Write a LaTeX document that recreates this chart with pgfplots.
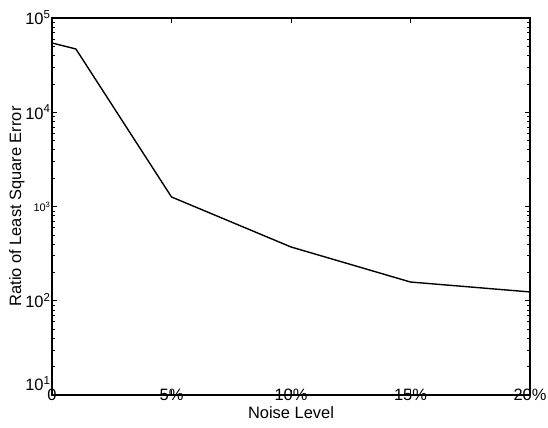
\documentclass[border=0pt]{standalone}
\usepackage{fontspec}
\setmainfont{Liberation Sans}
\usepackage{pgfplots}
\pgfplotsset{compat=1.18}
\begin{document}
\begin{tikzpicture}
\begin{axis}[
  scale only axis,
  width=478bp, height=377bp,
  ymode=log,
  xmin=0, xmax=20,
  ymin=10, ymax=100000,
  xtick={0,5,10,15,20},
  xticklabels={0,5\%,10\%,15\%,20\%},
  ytick={10,100,1000,10000,100000},
  yticklabels={\raisebox{4bp}[0pt][0pt]{10\textsuperscript{1}},10\textsuperscript{2},{\fontsize{11}{12}\selectfont 10\textsuperscript{3}},10\textsuperscript{4},10\textsuperscript{5}},
  tick align=inside,
  tick style={black, line width=0.6pt},
  major tick length=5bp,
  minor tick length=3bp,
  axis line style={line width=1.1pt},
  tick label style={font=\fontsize{16.5}{18}\selectfont},
  /pgf/number format/assume math mode=true,
  xticklabel style={yshift=9bp},
  yticklabel style={xshift=2bp},
  xlabel={Noise Level},
  ylabel={Ratio of Least Square Error},
  label style={font=\fontsize{16.5}{18}\selectfont},
  xlabel style={yshift=1bp},
  ylabel style={yshift=-6bp},
]
\addplot[black, line width=1.4pt] coordinates {
  (0,54300) (1,46900) (5,1262) (10,372) (15,158) (20,124)
};
\end{axis}
\pgfresetboundingbox
\useasboundingbox ([xshift=-52bp,yshift=-33bp]current axis.south west) rectangle ([xshift=18bp,yshift=18bp]current axis.north east);
\end{tikzpicture}
\end{document}
